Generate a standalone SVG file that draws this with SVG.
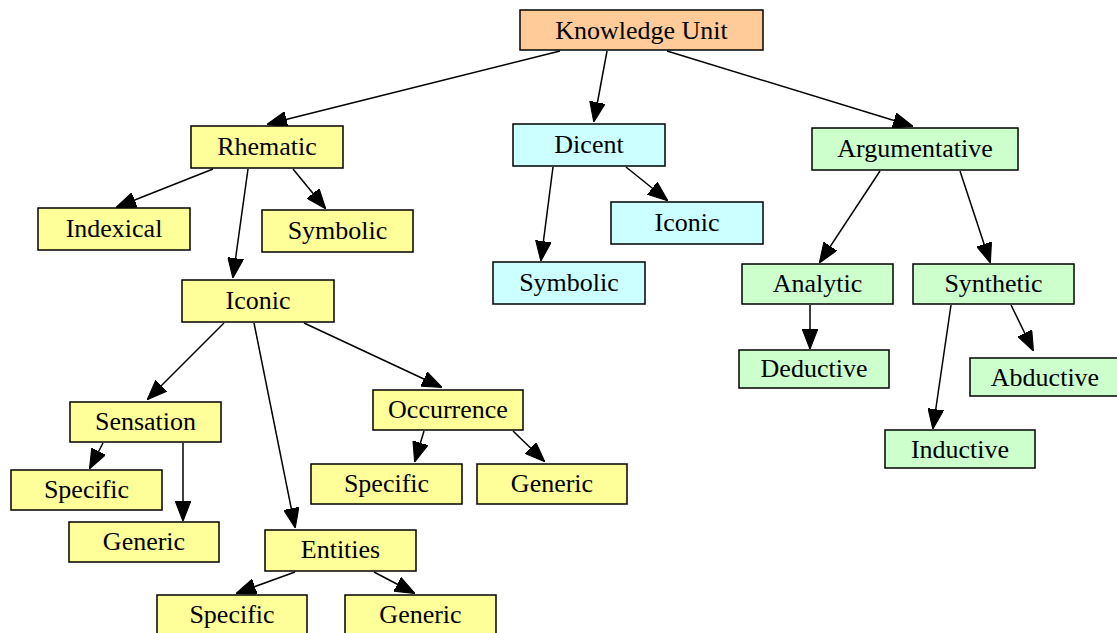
<svg xmlns="http://www.w3.org/2000/svg" width="1117" height="633" viewBox="0 0 1117 633">
  <style>
    .node rect { stroke: #000; stroke-width: 1.5; }
    .node text { font-family: "Liberation Serif", "Times New Roman", serif; font-size: 26px; text-anchor: middle; fill: #000; }
    .root rect { fill: #ffcc99; }
    .rhem rect { fill: #ffff99; }
    .dic rect { fill: #ccffff; }
    .arg rect { fill: #ccffcc; }
    #edges line { stroke: #000; stroke-width: 1.5; fill: none; marker-end: url(#arrow); }
  </style>
  <defs>
    <marker id="arrow" markerUnits="userSpaceOnUse" markerWidth="20" markerHeight="16" viewBox="0 0 18 14" refX="17" refY="7" orient="auto">
      <path d="M0,0 L18,7 L0,14 Z" fill="#000" stroke="#000" stroke-width="1"/>
    </marker>
  </defs>
  <rect width="1117" height="633" fill="#fff"/>

  <g id="edges">
    <line x1="560" y1="51" x2="268" y2="124"/>
    <line x1="607" y1="51" x2="594" y2="121"/>
    <line x1="667" y1="51" x2="912" y2="126"/>
    <line x1="213" y1="169" x2="117" y2="207"/>
    <line x1="293" y1="169" x2="325" y2="208"/>
    <line x1="248" y1="169" x2="233" y2="277"/>
    <line x1="553" y1="167" x2="541" y2="260"/>
    <line x1="626" y1="167" x2="667" y2="200"/>
    <line x1="880" y1="171" x2="820" y2="262"/>
    <line x1="960" y1="171" x2="990" y2="262"/>
    <line x1="810" y1="305" x2="810" y2="348"/>
    <line x1="951" y1="305" x2="933" y2="428"/>
    <line x1="1011" y1="305" x2="1033" y2="350"/>
    <line x1="224" y1="323" x2="148" y2="399"/>
    <line x1="254" y1="323" x2="295" y2="527"/>
    <line x1="304" y1="323" x2="441" y2="387"/>
    <line x1="103" y1="443" x2="90" y2="468"/>
    <line x1="183" y1="443" x2="183" y2="520"/>
    <line x1="424" y1="431" x2="415" y2="461"/>
    <line x1="513" y1="431" x2="544" y2="461"/>
    <line x1="295" y1="572" x2="237" y2="593"/>
    <line x1="374" y1="572" x2="414" y2="593"/>
  </g>

  <g id="knowledge-unit" class="node root"><rect x="520" y="10" width="243" height="40"/><text x="641.5" y="39">Knowledge Unit</text></g>

  <g id="rhematic" class="node rhem"><rect x="191" y="126" width="152" height="42"/><text x="267" y="155">Rhematic</text></g>
  <g id="dicent" class="node dic"><rect x="513" y="124" width="152" height="42"/><text x="589" y="153">Dicent</text></g>
  <g id="argumentative" class="node arg"><rect x="812" y="128" width="206" height="42"/><text x="915" y="157">Argumentative</text></g>

  <g id="rhem-indexical" class="node rhem"><rect x="38" y="208" width="152" height="42"/><text x="114" y="237">Indexical</text></g>
  <g id="rhem-symbolic" class="node rhem"><rect x="262" y="210" width="151" height="42"/><text x="337.5" y="239">Symbolic</text></g>
  <g id="rhem-iconic" class="node rhem"><rect x="182" y="280" width="152" height="42"/><text x="258" y="309">Iconic</text></g>

  <g id="dic-iconic" class="node dic"><rect x="611" y="202" width="152" height="42"/><text x="687" y="231">Iconic</text></g>
  <g id="dic-symbolic" class="node dic"><rect x="493" y="262" width="152" height="42"/><text x="569" y="291">Symbolic</text></g>

  <g id="analytic" class="node arg"><rect x="742" y="264" width="151" height="40"/><text x="817.5" y="292">Analytic</text></g>
  <g id="synthetic" class="node arg"><rect x="913" y="264" width="161" height="40"/><text x="993.5" y="292">Synthetic</text></g>
  <g id="deductive" class="node arg"><rect x="739" y="350" width="150" height="38"/><text x="814" y="377">Deductive</text></g>
  <g id="abductive" class="node arg"><rect x="970" y="358" width="150" height="38"/><text x="1045" y="386">Abductive</text></g>
  <g id="inductive" class="node arg"><rect x="885" y="430" width="150" height="38"/><text x="960" y="458">Inductive</text></g>

  <g id="sensation" class="node rhem"><rect x="70" y="402" width="151" height="40"/><text x="145.5" y="430">Sensation</text></g>
  <g id="sensation-specific" class="node rhem"><rect x="11" y="470" width="151" height="40"/><text x="86.5" y="498">Specific</text></g>
  <g id="sensation-generic" class="node rhem"><rect x="69" y="522" width="150" height="40"/><text x="144" y="550">Generic</text></g>

  <g id="occurrence" class="node rhem"><rect x="373" y="390" width="150" height="40"/><text x="448" y="418">Occurrence</text></g>
  <g id="occurrence-specific" class="node rhem"><rect x="311" y="464" width="151" height="40"/><text x="386.5" y="492">Specific</text></g>
  <g id="occurrence-generic" class="node rhem"><rect x="477" y="464" width="150" height="40"/><text x="552" y="492">Generic</text></g>

  <g id="entities" class="node rhem"><rect x="265" y="530" width="151" height="41"/><text x="340.5" y="558">Entities</text></g>
  <g id="entities-specific" class="node rhem"><rect x="157" y="595" width="150" height="42"/><text x="232" y="623">Specific</text></g>
  <g id="entities-generic" class="node rhem"><rect x="345" y="595" width="151" height="42"/><text x="420.5" y="623">Generic</text></g>
</svg>
